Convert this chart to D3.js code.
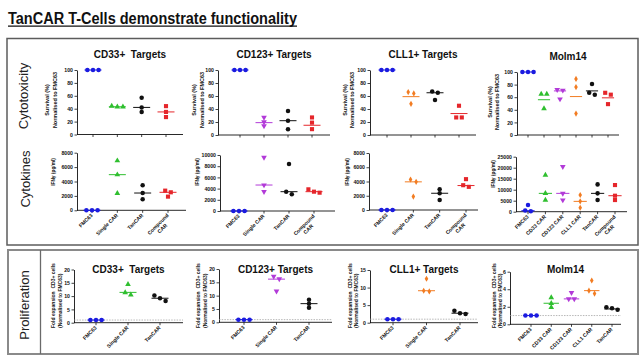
<!DOCTYPE html>
<html>
<head>
<meta charset="utf-8">
<script src="https://cdn.jsdelivr.net/npm/d3@7"></script>
<style>
  body { margin: 0; background: #fff; }
  svg { display: block; font-family: "Liberation Sans", Arial, sans-serif; }
</style>
</head>
<body>
<svg id="chart" width="643" height="361"></svg>
<script>
// categories
const cytoCats = ["FMC63", "Single CAR", "TanCAR", "Compound\nCAR"];
const molmCats = ["FMC63", "CD33 CAR", "CD123 CAR", "CLL1 CAR", "TanCAR", "Compound\nCAR"];
const prolifCats = ["FMC63", "Single CAR", "TanCAR"];
const prolifMolmCats = ["FMC63", "CD33 CAR", "CD123 CAR", "CLL1 CAR", "TanCAR"];

// tick labels
const cytoTicks = [0, 20, 40, 60, 80, 100];
const ifn8Ticks = [0, 2000, 4000, 6000, 8000];
const ifn10Ticks = [0, 2000, 4000, 6000, 8000, 10000];
const ifn25Ticks = [0, 5000, 10000, 15000, 20000, 25000];
const fold20Ticks = [0, 5, 10, 15, 20];
const fold15Ticks = [0, 5, 10, 15];
const fold6Ticks = [0, 2, 4, 6];

// Cytotoxicity: survival (%) normalised to FMC63, 3 replicates per group, plus centre line
const cd33Cyto = [[100, 100, 100], [43, 44, 43], [57, 42, 35], [44, 35, 27]];
const cd33CytoMid = [100, 43, 42, 35];
const cd123Cyto = [[100, 100, 100], [27, 20, 14], [37, 22, 9], [27, 19, 9]];
const cd123CytoMid = [100, 19, 22, 15];
const cll1Cyto = [[100, 100, 100], [64, 66, 48], [65, 67, 54], [45, 27, 27]];
const cll1CytoMid = [100, 59, 65, 33];
const molmCyto = [[100, 100, 100], [65, 42, 65], [71, 57, 72], [89, 76, 34], [64, 81, 67], [64, 49, 67]];
const molmCytoMid = [100, 56, 70, 61, 70, 59];

// Cytokines: IFNg (pg/ml)
const cd33Ifn = [[0, 0, 0], [6890, 4950, 2360], [3470, 2400, 1530], [2500, 2730, 1900]];
const cd33IfnMid = [0, 4950, 2400, 2500];
const cd123Ifn = [[0, 0, 0], [9580, 4640, 3450], [8390, 2980, 3450], [3870, 3270, 3450]];
const cd123IfnMid = [0, 4640, 3450, 3450];
const cll1Ifn = [[0, 0, 0], [3950, 4280, 1880], [2920, 2350, 1410], [4330, 3480, 3250]];
const cll1IfnMid = [0, 3950, 2350, 3430];
const molmIfn = [[3000, 500, 200], [16670, 8330, 5300], [20450, 8330, 5300], [7600, 4700, 1800], [12420, 8330, 5300], [12120, 7270, 5300]];
const molmIfnMid = [450, 8330, 8330, 4700, 8330, 7270];

// Proliferation: fold expansion of CD3+ cells normalised to FMC63
const cd33Prolif = [[1, 1, 1], [14.4, 10.5, 11.3], [10.2, 8.2, 9.2]];
const cd33ProlifMid = [1, 11.4, 9.2];
const cd123Prolif = [[1, 1, 1], [16.3, 17.2, 11.7], [8.5, 7, 5.5]];
const cd123ProlifMid = [1, 16.2, 7];
const cll1Prolif = [[1, 1, 1], [12.5, 9.1, 8.9], [3.4, 2.5, 2.7]];
const cll1ProlifMid = [1, 9.1, 2.7];
const molmProlif = [[1, 1, 1], [3.04, 2.4, 1.94], [3.6, 2.9, 2.9], [5.0, 3.84, 3.5], [1.94, 1.67, 1.82]];
const molmProlifMid = [1, 2.4, 2.9, 3.84, 1.75];

const svg = d3.select("#chart");

const colors = { fmc: "#1b1be0", cd33: "#2fbf2f", cd123: "#b23ad8", cll1: "#f27c22", tan: "#111", comp: "#e5262b" };
const shapes = { fmc: d3.symbolCircle, cd33: d3.symbolTriangle, cd123: d3.symbolTriangle, cll1: d3.symbolDiamond, tan: d3.symbolCircle, comp: d3.symbolSquare };
const sizes = { fmc: 16, cd33: 14, cd123: 14, cll1: 11, tan: 16, comp: 17 };

const cytoLab = ["Survival (%)", "Normalised to FMC63"];
const ifnLab = ["IFN\u03b3 (pg/ml)"];
const foldLab = ["Fold expansion  CD3+ cells", "(Normalised to FMC63)"];

const k4 = ["fmc", "cd33", "tan", "comp"];

const panels = [
  // cytotoxicity
  { title: "CD33+  Targets", cats: cytoCats, kinds: k4, vals: cd33Cyto, mid: cd33CytoMid, max: 100, ticks: cytoTicks,
    x0: 77, first: 93, last: 166, end: 183, yT: 70, yB: 134.5, titleY: 58, lab: cytoLab, lx: [47, 55], ly: 100, fs: 5.5 },
  { title: "CD123+ Targets", cats: cytoCats, kinds: ["fmc", "cd123", "tan", "comp"], vals: cd123Cyto, mid: cd123CytoMid, max: 100, ticks: cytoTicks,
    x0: 218, first: 240, last: 312, end: 330, yT: 70, yB: 135, titleY: 58, lab: cytoLab, lx: [194, 202], ly: 100, fs: 5.5 },
  { title: "CLL1+ Targets", cats: cytoCats, kinds: ["fmc", "cll1", "tan", "comp"], vals: cll1Cyto, mid: cll1CytoMid, max: 100, ticks: cytoTicks,
    x0: 370, first: 387, last: 459, end: 476, yT: 70, yB: 135, titleY: 58, lab: cytoLab, lx: [345, 352], ly: 100, fs: 5.5 },
  { title: "Molm14", cats: molmCats, kinds: ["fmc", "cd33", "cd123", "cll1", "tan", "comp"], vals: molmCyto, mid: molmCytoMid, max: 100, ticks: cytoTicks,
    x0: 517, first: 528, last: 608, end: 619, yT: 72, yB: 135, titleY: 60, lab: cytoLab, lx: [490, 497], ly: 102, fs: 5.5 },
  // cytokines
  { cats: cytoCats, kinds: k4, vals: cd33Ifn, mid: cd33IfnMid, max: 8000, ticks: ifn8Ticks, xlabels: true,
    x0: 77, first: 92, last: 168, end: 186, yT: 152.7, yB: 210.3, lab: ifnLab, lx: [53], ly: 172, fs: 4.8 },
  { cats: cytoCats, kinds: ["fmc", "cd123", "tan", "comp"], vals: cd123Ifn, mid: cd123IfnMid, max: 10000, ticks: ifn10Ticks, xlabels: true,
    x0: 220, first: 239, last: 314, end: 335, yT: 155, yB: 211, lab: ifnLab, lx: [197], ly: 172, fs: 4.8 },
  { cats: cytoCats, kinds: ["fmc", "cll1", "tan", "comp"], vals: cll1Ifn, mid: cll1IfnMid, max: 8000, ticks: ifn8Ticks, xlabels: true,
    x0: 369, first: 387, last: 466, end: 478, yT: 153, yB: 210, lab: ifnLab, lx: [347], ly: 172, fs: 4.8 },
  { cats: molmCats, kinds: ["fmc", "cd33", "cd123", "cll1", "tan", "comp"], vals: molmIfn, mid: molmIfnMid, max: 25000, ticks: ifn25Ticks, xlabels: true,
    x0: 516, first: 528, last: 615, end: 627, yT: 156.7, yB: 211.7, lab: ifnLab, lx: [493], ly: 174, fs: 4.8 },
  // proliferation
  { title: "CD33+  Targets", cats: prolifCats, kinds: ["fmc", "cd33", "tan"], vals: cd33Prolif, mid: cd33ProlifMid, max: 20, ticks: fold20Ticks, xlabels: true, ref: 1,
    x0: 74, first: 96, last: 160, end: 183, yT: 269.5, yB: 322.7, titleY: 273, lab: foldLab, lx: [53, 60], ly: 328, anchor: "start", fs: 5 },
  { title: "CD123+ Targets", cats: prolifCats, kinds: ["fmc", "cd123", "tan"], vals: cd123Prolif, mid: cd123ProlifMid, max: 20, ticks: fold20Ticks, xlabels: true, ref: 1,
    x0: 219, first: 244, last: 309, end: 332, yT: 269, yB: 322.3, titleY: 273, lab: foldLab, lx: [198, 205], ly: 328, anchor: "start", fs: 5 },
  { title: "CLL1+ Targets", cats: prolifCats, kinds: ["fmc", "cll1", "tan"], vals: cll1Prolif, mid: cll1ProlifMid, max: 15, ticks: fold15Ticks, xlabels: true, ref: 1,
    x0: 370, first: 393, last: 460, end: 478, yT: 270, yB: 322.7, titleY: 273, lab: foldLab, lx: [350, 356], ly: 328, anchor: "start", fs: 5 },
  { title: "Molm14", cats: prolifMolmCats, kinds: ["fmc", "cd33", "cd123", "cll1", "tan"], vals: molmProlif, mid: molmProlifMid, max: 6, ticks: fold6Ticks, xlabels: true, ref: 1,
    x0: 510, first: 531, last: 612, end: 621, yT: 271.7, yB: 324.3, titleY: 273, lab: foldLab, lx: [494, 500], ly: 328, anchor: "start", fs: 5 }
];

// frames
svg.append("rect").attr("x", 7).attr("y", 38.5).attr("width", 631).attr("height", 206.5)
  .attr("fill", "none").attr("stroke", "#5c5c5c").attr("stroke-width", 1.5);
svg.append("rect").attr("x", 8).attr("y", 250).attr("width", 630).attr("height", 104)
  .attr("fill", "none").attr("stroke", "#8a8a8a").attr("stroke-width", 2);
svg.append("line").attr("x1", 40.5).attr("x2", 40.5).attr("y1", 250).attr("y2", 354)
  .attr("stroke", "#6a6a6a").attr("stroke-width", 1.3);

// main title
svg.append("text").attr("x", 8).attr("y", 23.5)
  .attr("font-size", 16).attr("font-weight", "bold").attr("fill", "#111")
  .attr("textLength", 289).attr("lengthAdjust", "spacingAndGlyphs")
  .text("TanCAR T-Cells demonstrate functionality");
svg.append("line").attr("x1", 8).attr("x2", 297).attr("y1", 26.2).attr("y2", 26.2)
  .attr("stroke", "#111").attr("stroke-width", 1.3);

// row labels
[["Cytotoxicity", 23, 96], ["Cytokines", 25, 179], ["Proliferation", 24, 305]].forEach(([t, x, y]) => {
  svg.append("text").attr("transform", `translate(${x},${y}) rotate(-90)`)
    .attr("text-anchor", "middle").attr("dy", "0.35em")
    .attr("font-size", 13).attr("fill", "#222").text(t);
});

// spread points with nearly equal values sideways, like a small beeswarm
function spread(ys, near, step) {
  const idx = d3.range(ys.length).sort((a, b) => ys[a] - ys[b]);
  const off = [];
  let cur = [idx[0]];
  const flush = c => c.forEach((k, j) => { off[k] = (j - (c.length - 1) / 2) * step; });
  for (let i = 1; i < idx.length; i++) {
    if (ys[idx[i]] - ys[cur[cur.length - 1]] < near) cur.push(idx[i]);
    else { flush(cur); cur = [idx[i]]; }
  }
  flush(cur);
  return off;
}

function drawPanel(p) {
  const g = svg.append("g");
  const x = d3.scalePoint().domain(p.cats).range([p.first, p.last]);
  const y = d3.scaleLinear().domain([0, p.max]).range([p.yB, p.yT]);
  const half = Math.min(8.5, x.step() * 0.38);

  if (p.title) {
    g.append("text").attr("x", (p.x0 + p.end) / 2).attr("y", p.titleY)
      .attr("text-anchor", "middle").attr("font-size", 10).attr("font-weight", "bold")
      .attr("fill", "#111").style("white-space", "pre").text(p.title);
  }

  // y axis
  const ya = g.append("g").attr("transform", `translate(${p.x0},0)`)
    .call(d3.axisLeft(y).tickValues(p.ticks).tickSize(2.5).tickSizeOuter(0).tickPadding(1.5).tickFormat(d3.format("d")));
  ya.select(".domain").attr("stroke", "#111").attr("stroke-width", 0.9);
  ya.selectAll(".tick line").attr("stroke", "#111").attr("stroke-width", 0.8);
  ya.selectAll(".tick text").attr("font-size", 5.2).attr("font-weight", "bold").attr("fill", "#111")
    .attr("font-family", "Liberation Sans, Arial, sans-serif");

  // x axis
  g.append("line").attr("x1", p.x0).attr("x2", p.end).attr("y1", p.yB).attr("y2", p.yB)
    .attr("stroke", "#111").attr("stroke-width", 0.9);
  g.selectAll(".xt").data(p.cats).join("line")
    .attr("x1", d => x(d)).attr("x2", d => x(d)).attr("y1", p.yB).attr("y2", p.yB + 2.5)
    .attr("stroke", "#111").attr("stroke-width", 0.8);

  if (p.xlabels) {
    p.cats.forEach(c => {
      const lines = c.split("\n");
      const lg = g.append("g").attr("transform", `translate(${x(c) + 1},${p.yB + 5.5}) rotate(-45)`);
      const t1 = lg.append("text").attr("text-anchor", "end").attr("font-size", 5.2)
        .attr("font-weight", "bold").attr("fill", "#111").text(lines[0]);
      if (lines[1]) {
        const w = t1.node().getComputedTextLength();
        lg.append("text").attr("x", -w / 2).attr("y", 6).attr("text-anchor", "middle")
          .attr("font-size", 5.2).attr("font-weight", "bold").attr("fill", "#111").text(lines[1]);
      }
    });
  }

  // y label
  p.lab.forEach((t, i) => {
    g.append("text").attr("transform", `translate(${p.lx[i]},${p.ly}) rotate(-90)`)
      .attr("text-anchor", p.anchor || "middle").attr("dy", "0.35em")
      .attr("font-size", p.fs).attr("font-weight", "bold").attr("fill", "#111")
      .style("white-space", "pre").text(t);
  });

  // reference line at 1
  if (p.ref) {
    g.append("line").attr("x1", p.x0).attr("x2", p.end).attr("y1", y(p.ref)).attr("y2", y(p.ref))
      .attr("stroke", "#9a9a9a").attr("stroke-width", 0.7).attr("stroke-dasharray", "1.5,1.2");
  }

  // points and centre lines
  p.vals.forEach((vs, gi) => {
    const kind = p.kinds[gi];
    const cx = x(p.cats[gi]);
    const ys = vs.map(v => y(v));
    const off = spread(ys, 3.5, 5.6);
    g.append("line").attr("x1", cx - half).attr("x2", cx + half)
      .attr("y1", y(p.mid[gi])).attr("y2", y(p.mid[gi]))
      .attr("stroke", colors[kind]).attr("stroke-width", 1);
    const sym = d3.symbol().type(shapes[kind]).size(sizes[kind]);
    vs.forEach((v, i) => {
      g.append("path").attr("d", sym())
        .attr("transform", `translate(${cx + off[i]},${ys[i]})` + (kind === "cd123" ? " rotate(180)" : ""))
        .attr("fill", colors[kind]);
    });
  });
}

panels.forEach(drawPanel);
</script>
</body>
</html>
